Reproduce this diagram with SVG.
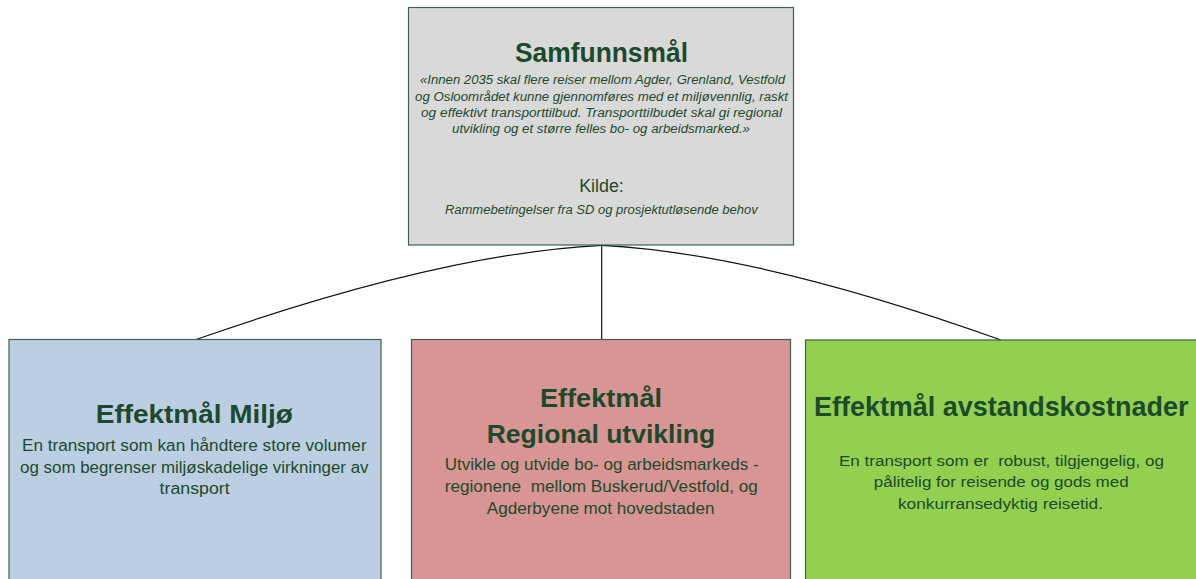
<svg xmlns="http://www.w3.org/2000/svg" width="1196" height="579" viewBox="0 0 1196 579">
<style>
.box{stroke:#3d6150;stroke-width:1.2}
.t{font-family:"Liberation Sans",Arial,sans-serif;text-anchor:middle;fill:#1c4a2c;white-space:pre}
.h{font-weight:bold}
.i{font-style:italic}
.conn{fill:none;stroke:#111;stroke-width:1.2}
</style>
<rect width="1196" height="579" fill="#ffffff"/>
<g id="connectors">
<path class="conn" d="M601.7,245.3 Q442.5,253.3 196.7,339.3"/>
<path class="conn" d="M601.7,245.3 L601.7,339.5"/>
<path class="conn" d="M601.7,245.3 Q759,253.3 1001,340"/>
</g>
<g id="samfunnsmal">
<rect class="box" x="408.5" y="7.5" width="385" height="237.5" fill="#d9d9d9"/>
<text class="t h" x="601.5" y="61.7" font-size="28" textLength="173" lengthAdjust="spacingAndGlyphs">Samfunnsmål</text>
<text class="t i" x="602.5" y="84.3" font-size="12.5" textLength="365" lengthAdjust="spacingAndGlyphs">«Innen 2035 skal flere reiser mellom Agder, Grenland, Vestfold</text>
<text class="t i" x="601.5" y="100.7" font-size="12.5" textLength="373" lengthAdjust="spacingAndGlyphs">og Osloområdet kunne gjennomføres med et miljøvennlig, raskt</text>
<text class="t i" x="601.5" y="117" font-size="12.5" textLength="361" lengthAdjust="spacingAndGlyphs">og effektivt transporttilbud. Transporttilbudet skal gi regional</text>
<text class="t i" x="601" y="133.3" font-size="12.5" textLength="298" lengthAdjust="spacingAndGlyphs">utvikling og et større felles bo- og arbeidsmarked.»</text>
<text class="t" x="601.5" y="191.5" font-size="17.5" textLength="44.7" lengthAdjust="spacingAndGlyphs">Kilde:</text>
<text class="t i" x="601.3" y="214" font-size="12.5" textLength="312.7" lengthAdjust="spacingAndGlyphs">Rammebetingelser fra SD og prosjektutløsende behov</text>
</g>
<g id="miljo">
<rect class="box" x="9" y="339.5" width="372" height="260" fill="#bccfe2"/>
<text class="t h" x="194.3" y="423.3" font-size="25.5" textLength="197" lengthAdjust="spacingAndGlyphs">Effektmål Miljø</text>
<text class="t" x="194.3" y="450.7" font-size="16" textLength="344.6" lengthAdjust="spacingAndGlyphs">En transport som kan håndtere store volumer</text>
<text class="t" x="194.3" y="473" font-size="16" textLength="348.5" lengthAdjust="spacingAndGlyphs">og som begrenser miljøskadelige virkninger av</text>
<text class="t" x="194.6" y="494" font-size="16" textLength="70" lengthAdjust="spacingAndGlyphs">transport</text>
</g>
<g id="regional">
<rect class="box" x="411.5" y="339.5" width="379" height="260" fill="#d99593"/>
<text class="t h" x="601" y="406.7" font-size="25.5" textLength="122" lengthAdjust="spacingAndGlyphs">Effektmål</text>
<text class="t h" x="601" y="443.3" font-size="25.5" textLength="228.6" lengthAdjust="spacingAndGlyphs">Regional utvikling</text>
<text class="t" x="601.6" y="470" font-size="16" textLength="313.9" lengthAdjust="spacingAndGlyphs">Utvikle og utvide bo- og arbeidsmarkeds -</text>
<text class="t" x="601.3" y="492.3" font-size="16" textLength="313.2" lengthAdjust="spacingAndGlyphs" xml:space="preserve">regionene  mellom Buskerud/Vestfold, og</text>
<text class="t" x="600.7" y="514" font-size="16" textLength="227.8" lengthAdjust="spacingAndGlyphs">Agderbyene mot hovedstaden</text>
</g>
<g id="avstandskostnader">
<rect class="box" x="805.5" y="340" width="400" height="260" fill="#92d050"/>
<text class="t h" x="1001.2" y="415.7" font-size="27" textLength="374.4" lengthAdjust="spacingAndGlyphs">Effektmål avstandskostnader</text>
<text class="t" x="1001.5" y="465.5" font-size="15.5" textLength="325" lengthAdjust="spacingAndGlyphs" xml:space="preserve">En transport som er  robust, tilgjengelig, og</text>
<text class="t" x="1001.2" y="487" font-size="15.5" textLength="254.9" lengthAdjust="spacingAndGlyphs">pålitelig for reisende og gods med</text>
<text class="t" x="1000.5" y="509" font-size="15.5" textLength="205" lengthAdjust="spacingAndGlyphs">konkurransedyktig reisetid.</text>
</g>
</svg>
